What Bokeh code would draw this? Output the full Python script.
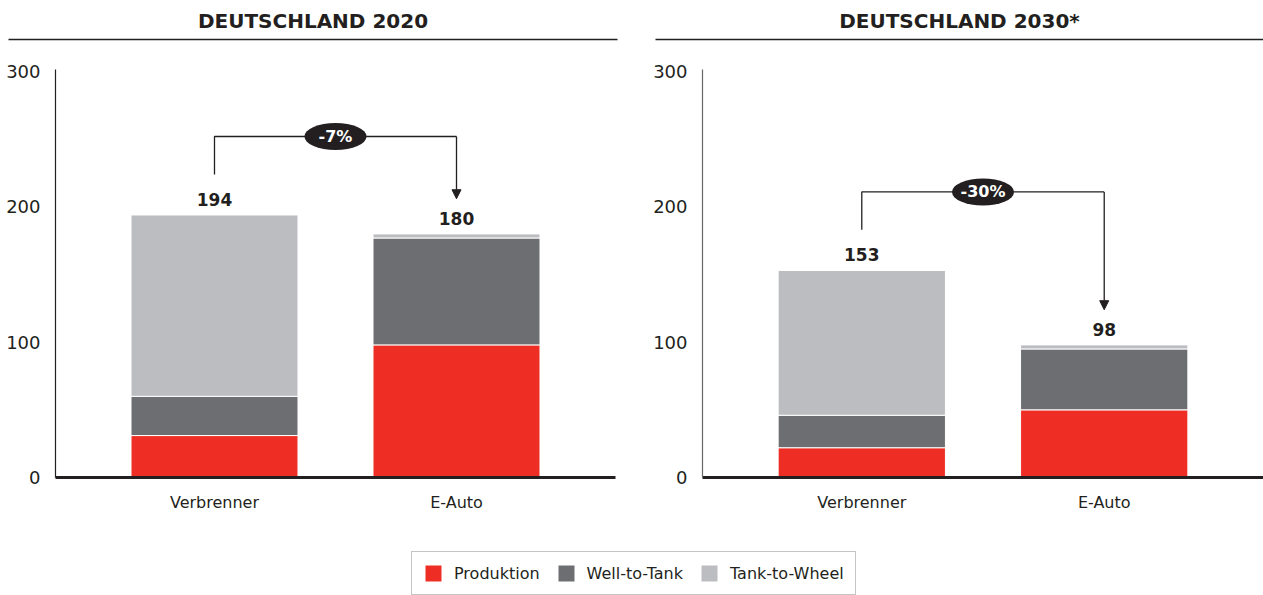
from bokeh.plotting import figure
from bokeh.models import (FactorRange, Range1d, Arrow, NormalHead, Legend, LegendItem,
                          ColumnDataSource, FixedTicker)
from bokeh.layouts import column, row
from bokeh.embed import file_html
from bokeh.resources import INLINE
from bokeh.core.properties import value

# ---------------- data ----------------
categories = ["Verbrenner", "E-Auto"]
series = ["Produktion", "Well-to-Tank", "Tank-to-Wheel"]
colors = ["#ee2e24", "#6d6e71", "#bcbdc0"]

titles = ["DEUTSCHLAND 2020", "DEUTSCHLAND 2030*"]

produktion_2020 = [31, 98]
well_to_tank_2020 = [29, 79]
tank_to_wheel_2020 = [134, 3]
change_2020 = "-7%"

produktion_2030 = [22, 50]
well_to_tank_2030 = [24, 45]
tank_to_wheel_2030 = [107, 3]
change_2030 = "-30%"

y_ticks = [0, 100, 200, 300]

DARK = "#231f20"
FONT = "DejaVu Sans"


def make_chart(prod, wtt, ttw, change, width, border_left, border_right, yaxis_color):
    totals = [a + b + c for a, b, c in zip(prod, wtt, ttw)]
    src = ColumnDataSource(dict(cat=categories, prod=prod, wtt=wtt, ttw=ttw,
                                total=totals, label=[str(t) for t in totals]))
    p = figure(x_range=FactorRange(factors=categories, range_padding=0.157,
                                   range_padding_units="absolute"),
               y_range=Range1d(0, 301.5), width=width, height=475,
               output_backend="svg", toolbar_location=None,
               min_border_left=border_left, min_border_right=border_right,
               min_border_top=24, min_border_bottom=43)
    p.outline_line_color = None
    p.grid.visible = False
    p.background_fill_color = "white"
    p.border_fill_color = "white"

    p.vbar_stack(["prod", "wtt", "ttw"], x="cat", width=0.69, source=src,
                 fill_color=colors, line_color="white", line_width=1)

    p.text(x="cat", y="total", text="label", source=src, text_align="center",
           text_baseline="bottom", y_offset=-9, text_font=value(FONT),
           text_font_style="bold", text_font_size="17px", text_color=DARK)

    # change bracket
    y_start = totals[0] + 30
    y_top = y_start + 28
    y_tip = totals[1] + 26
    p.line(x=[0.5, 0.5, 1.5], y=[y_start, y_top, y_top], line_color=DARK, line_width=1.3)
    p.add_layout(Arrow(end=NormalHead(size=9, fill_color=DARK, line_color=DARK),
                       x_start=1.5, y_start=y_top, x_end=1.5, y_end=y_tip,
                       line_color=DARK, line_width=1.3))
    p.ellipse(x=[1.0], y=[y_top], width=62, height=27, width_units="screen",
              height_units="screen", fill_color=DARK, line_color=None)
    p.text(x=[1.0], y=[y_top], text=[change], text_align="center", text_baseline="middle",
           text_font=value(FONT), text_font_style="bold", text_font_size="16px",
           text_color="white")

    p.yaxis.ticker = FixedTicker(ticks=y_ticks)
    p.yaxis.major_tick_line_color = None
    p.yaxis.minor_tick_line_color = None
    p.yaxis.major_label_standoff = 9
    p.yaxis.major_label_text_font = FONT
    p.yaxis.major_label_text_font_size = "18px"
    p.yaxis.major_label_text_color = DARK
    p.yaxis.axis_line_color = yaxis_color
    p.yaxis.axis_line_width = 1.2

    p.xaxis.axis_line_width = 3
    p.xaxis.axis_line_color = DARK
    p.xaxis.major_tick_line_color = None
    p.xaxis.minor_tick_line_color = None
    p.xaxis.major_label_standoff = 9
    p.xaxis.major_label_text_font = FONT
    p.xaxis.major_label_text_font_size = "16px"
    p.xaxis.major_label_text_color = DARK
    return p


p1 = make_chart(produktion_2020, well_to_tank_2020, tank_to_wheel_2020, change_2020,
                632, 55, 17, DARK)
p2 = make_chart(produktion_2030, well_to_tank_2030, tank_to_wheel_2030, change_2030,
                631, 70, 0, "#666666")

# ---------------- header (titles with rule) ----------------
hdr = figure(width=1263, height=45, x_range=Range1d(0, 1263), y_range=Range1d(45, 0),
             output_backend="svg", toolbar_location=None, min_border=0,
             x_axis_location=None, y_axis_location=None)
hdr.outline_line_color = None
hdr.grid.visible = False
hdr.text(x=[312.5, 959], y=[20, 20], text=titles, text_align="center",
         text_baseline="middle", text_font=value(FONT), text_font_style="bold",
         text_font_size="20px", text_color=DARK)
hdr.segment(x0=[8, 655], y0=[39, 39], x1=[617, 1263], y1=[39, 39],
            line_color=DARK, line_width=1.3)

# ---------------- legend ----------------
lg = figure(width=1263, height=75, x_range=Range1d(0, 1), y_range=Range1d(0, 1),
            output_backend="svg", toolbar_location=None, min_border=0,
            x_axis_location=None, y_axis_location=None)
lg.outline_line_color = None
lg.grid.visible = False
items = []
for name, c in zip(series, colors):
    r = lg.rect(x=[-5], y=[-5], width=0.1, height=0.1, fill_color=c, line_color=None)
    items.append(LegendItem(label=name, renderers=[r]))
legend = Legend(items=items, orientation="horizontal", location=(411, 0),
                border_line_color="#8c8c8c", border_line_width=1.5, padding=11,
                spacing=16, glyph_width=20, glyph_height=20, label_standoff=11,
                label_text_font=FONT, label_text_font_size="16px",
                label_text_color=DARK, margin=0)
lg.add_layout(legend, "center")

layout = column(hdr, row(p1, p2), lg)
open("out.html", "w").write(file_html(layout, INLINE))
